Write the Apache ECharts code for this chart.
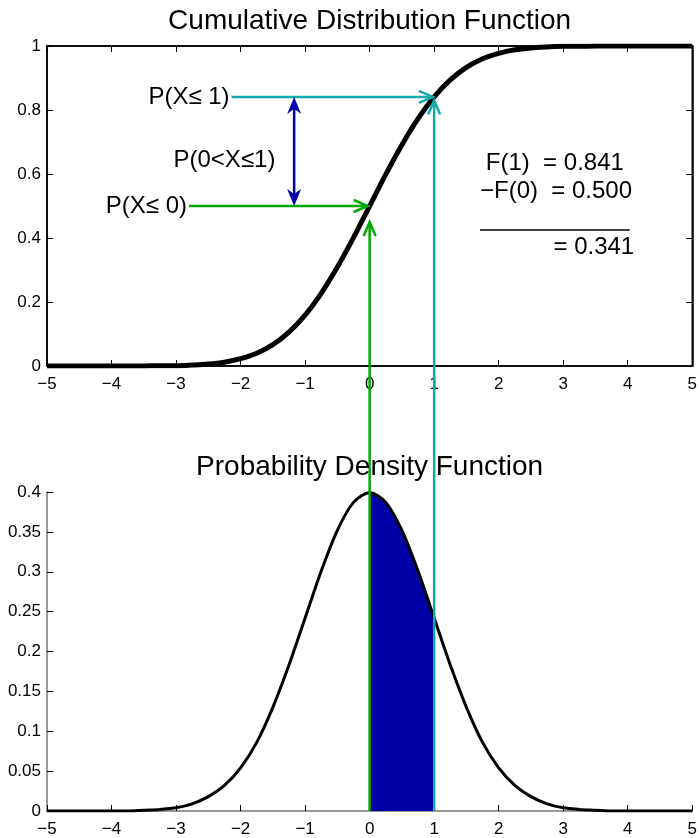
<!DOCTYPE html>
<html>
<head>
<meta charset="UTF-8">
<title>Cumulative Distribution Function</title>
<script src="https://cdn.jsdelivr.net/npm/echarts@6/dist/echarts.min.js"></script>
<style>
  body { margin: 0; background: #fff; }
  #main { width: 700px; height: 838px; }
</style>
</head>
<body>
<div id="main"></div>
<script>
// values
const xValues = [-5, -4.75, -4.5, -4.25, -4, -3.75, -3.5, -3.25, -3, -2.75, -2.5, -2.25, -2, -1.75, -1.5, -1.25,
  -1, -0.75, -0.5, -0.25, 0, 0.25, 0.5, 0.75, 1, 1.25, 1.5, 1.75, 2, 2.25, 2.5, 2.75, 3, 3.25, 3.5, 3.75,
  4, 4.25, 4.5, 4.75, 5];
const cdfValues = [0, 0, 0, 0, 0, 0, 0, 0.001, 0.001, 0.003, 0.006, 0.012, 0.023, 0.040, 0.067, 0.106,
  0.159, 0.227, 0.309, 0.401, 0.500, 0.599, 0.691, 0.773, 0.841, 0.894, 0.933, 0.960, 0.977, 0.988, 0.994, 0.997,
  0.999, 0.999, 1, 1, 1, 1, 1, 1, 1];
const pdfValues = [0, 0, 0, 0, 0, 0, 0.001, 0.002, 0.004, 0.009, 0.018, 0.032, 0.054, 0.086, 0.130, 0.183,
  0.242, 0.301, 0.352, 0.387, 0.399, 0.387, 0.352, 0.301, 0.242, 0.183, 0.130, 0.086, 0.054, 0.032, 0.018, 0.009,
  0.004, 0.002, 0.001, 0, 0, 0, 0, 0, 0];
const shadeX = [0, 0.25, 0.5, 0.75, 1];
const shadeY = [0.399, 0.387, 0.352, 0.301, 0.242];

const F0 = 0.5, F1 = 0.841;
const resultLines = ['F(1)  = 0.841', '\u2212F(0)  = 0.500', '= 0.341'];

const FONT = "'Liberation Sans', Arial, Helvetica, sans-serif";
const GREEN = '#00a800', CYAN = '#10aaaa', BLUE = '#0000a8';

const chart = echarts.init(document.getElementById('main'));

const zip = (xs, ys) => xs.map((x, i) => [x, ys[i]]);
const minus = v => String(v).replace('-', '\u2212');

const tickLabel = { color: '#000', fontSize: 17, fontFamily: FONT };

function xAxisBase(gridIndex, lineColor) {
  return {
    gridIndex, type: 'value', min: -5, max: 5, interval: 1,
    axisLine: { show: true, onZero: false, lineStyle: { color: lineColor, width: 1.5 } },
    axisTick: { show: true, inside: true, length: 6, lineStyle: { color: '#000' } },
    axisLabel: Object.assign({ margin: 10, formatter: minus }, tickLabel),
    splitLine: { show: false }
  };
}

function yAxisBase(gridIndex, max, interval, position, lineColor) {
  return {
    gridIndex, type: 'value', min: 0, max, interval, position,
    axisLine: { show: true, onZero: false, lineStyle: { color: lineColor, width: 1.5 } },
    axisTick: { show: true, inside: true, length: 6, lineStyle: { color: '#000' } },
    axisLabel: Object.assign({ margin: 6 }, tickLabel),
    splitLine: { show: false }
  };
}

chart.setOption({
  animation: false,
  grid: [
    { left: 47, top: 46, width: 647, height: 320, show: true, borderColor: '#000', borderWidth: 1.5 },
    { left: 47, top: 492, width: 647, height: 320 }
  ],
  xAxis: [
    Object.assign(xAxisBase(0, '#000'), { position: 'bottom' }),
    Object.assign(xAxisBase(0, '#000'), { position: 'top', axisLabel: { show: false } }),
    Object.assign(xAxisBase(1, '#777'), { position: 'bottom' })
  ],
  yAxis: [
    yAxisBase(0, 1, 0.2, 'left', '#000'),
    Object.assign(yAxisBase(0, 1, 0.2, 'right', '#000'), { axisLabel: { show: false } }),
    yAxisBase(1, 0.4, 0.05, 'left', '#777')
  ],
  series: [
    {
      name: 'CDF', type: 'line', xAxisIndex: 0, yAxisIndex: 0,
      data: zip(xValues, cdfValues), showSymbol: false, smooth: 0.3,
      lineStyle: { color: '#000', width: 5 }, z: 3
    },
    {
      name: 'shade', type: 'line', xAxisIndex: 2, yAxisIndex: 2,
      data: zip(shadeX, shadeY), showSymbol: false, smooth: 0.3,
      lineStyle: { width: 0 }, areaStyle: { color: BLUE, opacity: 1 }, z: 2
    },
    {
      name: 'PDF', type: 'line', xAxisIndex: 2, yAxisIndex: 2,
      data: zip(xValues, pdfValues), showSymbol: false, smooth: 0.3,
      lineStyle: { color: '#000', width: 3 }, z: 3
    }
  ]
});

// pixel helpers through the axes
const cdfPx = (x, y) => chart.convertToPixel({ xAxisIndex: 0, yAxisIndex: 0 }, [x, y]);
const pdfPx = (x, y) => chart.convertToPixel({ xAxisIndex: 2, yAxisIndex: 2 }, [x, y]);

function line(a, b, color, width) {
  return { type: 'line', z: 50, shape: { x1: a[0], y1: a[1], x2: b[0], y2: b[1] },
    style: { stroke: color, lineWidth: width } };
}

function head(tip, from, color, len, half, filled) {
  const dx = tip[0] - from[0], dy = tip[1] - from[1];
  const d = Math.hypot(dx, dy), ux = dx / d, uy = dy / d;
  const bx = tip[0] - ux * len, by = tip[1] - uy * len;
  const p1 = [bx - uy * half, by + ux * half], p2 = [bx + uy * half, by - ux * half];
  if (filled) {
    const m = [tip[0] - ux * len * 0.7, tip[1] - uy * len * 0.7];
    return { type: 'polygon', z: 51, shape: { points: [tip, p1, m, p2] }, style: { fill: color } };
  }
  return { type: 'polyline', z: 51, shape: { points: [p1, tip, p2] },
    style: { stroke: color, lineWidth: 2.5, fill: null } };
}

function arrow(a, b, color, width) {
  return [line(a, b, color, width), head(b, a, color, 14, 6, false)];
}

function text(p, str, size, align) {
  return { type: 'text', z: 60, x: p[0], y: p[1],
    style: { text: str, font: size + 'px ' + FONT, fill: '#000', align: align, verticalAlign: 'middle',
      textAlign: align, textVerticalAlign: 'middle' } };
}

const els = [];
const x0 = cdfPx(0, 0)[0];
els.push(text([x0, 21], 'Cumulative Distribution Function', 28, 'center'));
els.push(text([x0, 467], 'Probability Density Function', 28, 'center'));

// horizontal arrows to the CDF curve
els.push(...arrow(cdfPx(-2.14, F1), cdfPx(0.98, F1), CYAN, 2.5));
els.push(...arrow(cdfPx(-2.8, F0), cdfPx(-0.03, F0), GREEN, 2.5));
// vertical arrows from the PDF x-axis up to the CDF curve
els.push(...arrow(pdfPx(0, 0), cdfPx(0, 0.45), GREEN, 2.5));
els.push(...arrow(pdfPx(1, 0), cdfPx(1, 0.83), CYAN, 2.5));
// double arrow for P(0<X<=1)
const da = cdfPx(-1.17, F1), db = cdfPx(-1.17, F0);
els.push(line([da[0], da[1] + 8], [db[0], db[1] - 8], BLUE, 2.5));
els.push(head(da, db, BLUE, 17, 7, true));
els.push(head(db, da, BLUE, 17, 7, true));

els.push(text(cdfPx(-2.17, F1), 'P(X\u2264 1)', 24, 'right'));
els.push(text(cdfPx(-2.25, 0.644), 'P(0<X\u22641)', 24, 'center'));
els.push(text(cdfPx(-2.83, F0), 'P(X\u2264 0)', 24, 'right'));

els.push(text(cdfPx(1.8, 0.634), resultLines[0], 24, 'left'));
els.push(text(cdfPx(1.71, 0.547), resultLines[1], 24, 'left'));
els.push(line(cdfPx(1.71, 0.425), cdfPx(4.03, 0.425), '#000', 1.3));
els.push(text(cdfPx(4.1, 0.372), resultLines[2], 24, 'right'));

chart.setOption({ graphic: { elements: els } });
</script>
</body>
</html>
